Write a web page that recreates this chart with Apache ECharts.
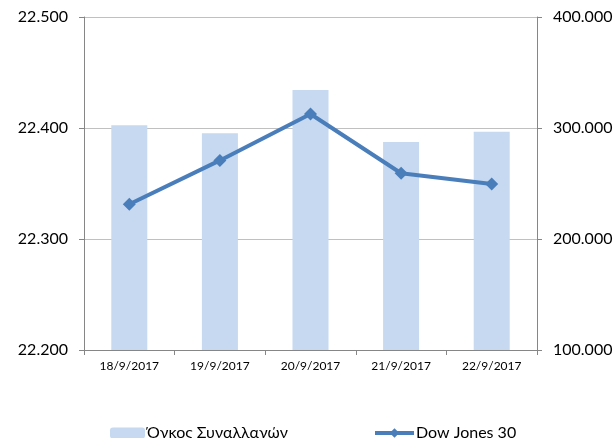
<!DOCTYPE html>
<html>
<head>
<meta charset="utf-8">
<script src="https://cdn.jsdelivr.net/npm/echarts@6/dist/echarts.min.js"></script>
<style>
  html, body { margin: 0; padding: 0; background: #fff; }
  #chart { width: 616px; height: 438px; }
</style>
</head>
<body>
<div id="chart"></div>
<script>
// dates on the x axis
const categories = ['18/9/2017', '19/9/2017', '20/9/2017', '21/9/2017', '22/9/2017'];
// trading volume (right axis)
const volume = [302400, 295200, 334200, 287400, 296700];
// Dow Jones 30 close (left axis)
const dowJones = [22331.35, 22370.80, 22412.59, 22359.23, 22349.59];

const FONT = 'Lato, "Noto Sans", sans-serif';

// 22500 -> "22.500"
const fmtThousands = (v) => {
  const n = Math.round(v);
  const hi = Math.floor(n / 1000);
  const lo = String(n % 1000).padStart(3, '0');
  return hi + '.' + lo;
};

const chart = echarts.init(document.getElementById('chart'));

const option = {
  animation: false,
  textStyle: { fontFamily: FONT, color: '#000' },
  grid: { left: 84, right: 79, top: 17, bottom: 88 },
  legend: [
    {
      data: ['Όγκος Συναλλαγών'],
      left: 105, top: 420,
      itemWidth: 35, itemHeight: 11,
      textStyle: { fontSize: 16, color: '#000', fontFamily: FONT, padding: [0, 0, 0, -3] }
    },
    {
      data: ['Dow Jones 30'],
      left: 368, top: 420,
      itemWidth: 39, itemHeight: 12,
      lineStyle: { width: 4 },
      textStyle: { fontSize: 16, color: '#000', fontFamily: FONT, padding: [0, 0, 0, -3] }
    }
  ],
  xAxis: {
    type: 'category',
    data: categories,
    boundaryGap: true,
    axisLine: { lineStyle: { color: '#868686', width: 1 } },
    axisTick: { show: true, alignWithLabel: false, length: 5, lineStyle: { color: '#868686' } },
    axisLabel: { fontSize: 12, color: '#000', margin: 10 },
    splitLine: { show: false }
  },
  yAxis: [
    {
      type: 'value',
      min: 22200, max: 22500, interval: 100,
      axisLine: { show: true, lineStyle: { color: '#868686' } },
      axisTick: { show: true, length: 5, lineStyle: { color: '#868686' } },
      axisLabel: { fontSize: 16, color: '#000', margin: 16, formatter: fmtThousands },
      splitLine: { show: true, lineStyle: { color: '#c0c0c0', width: 1 } }
    },
    {
      type: 'value',
      position: 'right',
      min: 100000, max: 400000, interval: 100000,
      axisLine: { show: true, lineStyle: { color: '#868686' } },
      axisTick: { show: true, length: 5, lineStyle: { color: '#868686' } },
      axisLabel: { fontSize: 16, color: '#000', margin: 16, formatter: fmtThousands },
      splitLine: { show: false }
    }
  ],
  series: [
    {
      name: 'Όγκος Συναλλαγών',
      type: 'bar',
      yAxisIndex: 1,
      data: volume,
      barWidth: 36,
      itemStyle: { color: '#c6d9f1' },
      z: 1
    },
    {
      name: 'Dow Jones 30',
      type: 'line',
      yAxisIndex: 0,
      data: dowJones,
      symbol: 'diamond',
      symbolSize: 13,
      lineStyle: { color: '#4a7ebb', width: 4 },
      itemStyle: { color: '#4a7ebb' },
      z: 3
    }
  ]
};

chart.setOption(option);
window.addEventListener('resize', () => chart.resize());
</script>
</body>
</html>
